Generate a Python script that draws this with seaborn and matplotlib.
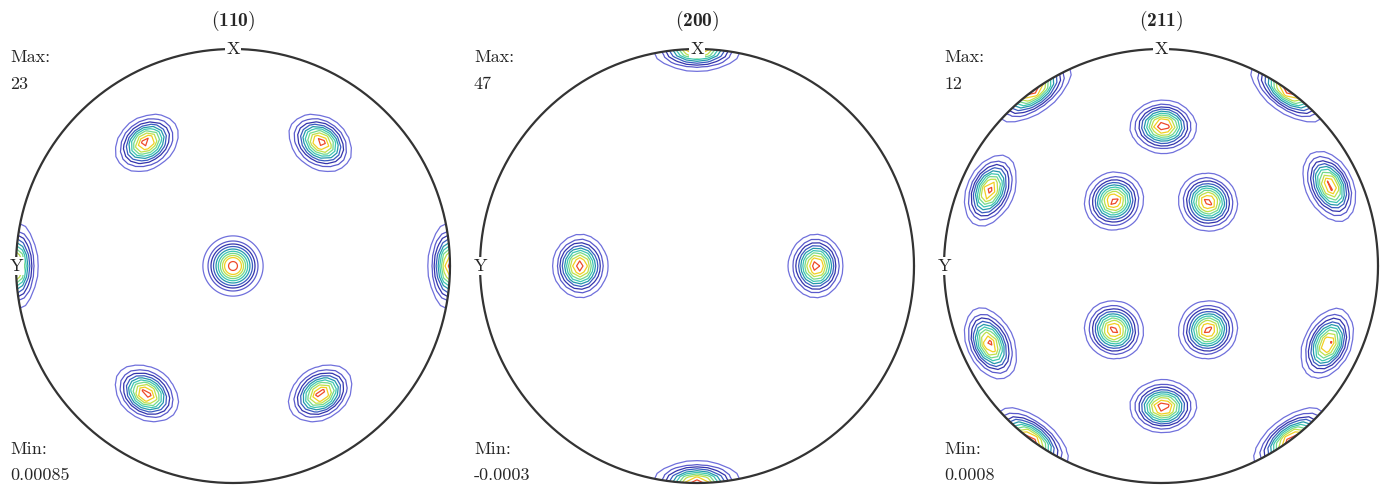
import numpy as np
import matplotlib
matplotlib.use("Agg")
import matplotlib.pyplot as plt
import seaborn as sns

sns.set_theme(style="white")
plt.rcParams["font.family"] = ["cmr10", "DejaVu Serif"]
plt.rcParams["mathtext.fontset"] = "custom"
plt.rcParams["mathtext.rm"] = "cmr10"
plt.rcParams["mathtext.bf"] = "cmb10"
plt.rcParams["mathtext.fallback"] = "cm"
plt.rcParams["axes.unicode_minus"] = False

# ------------------------------------------------------------
# DATA (pole positions in projected disk coords, peak intensities)
# ------------------------------------------------------------
titles = [r"$(\mathbf{110})$", r"$(\mathbf{200})$", r"$(\mathbf{211})$"]
max_labels = ["23", "47", "12"]
min_labels = ["0.00085", "-0.0003", "0.0008"]
vmax_list = [23, 47, 12]

poles_110_x = [0.0, -0.40, 0.405, -0.40, 0.405, -1.0, 1.0]
poles_110_y = [0.0, 0.57, 0.57, -0.59, -0.59, 0.0, 0.0]
peaks_110 = [23, 22.5, 22.5, 22.5, 22.5, 22, 22]

poles_200_x = [0.0, 0.0, -0.54, 0.55]
poles_200_y = [1.0, -1.0, 0.0, 0.0]
peaks_200 = [47, 47, 46, 46]

poles_211_x = [0.01, 0.01, -0.217, 0.217, -0.217, 0.217, -0.79, 0.78, -0.79, 0.77, -0.59, 0.59, -0.60, 0.60]
poles_211_y = [0.645, -0.65, 0.30, 0.295, -0.295, -0.295, 0.35, 0.37, -0.36, -0.36, 0.81, 0.81, -0.80, -0.80]
peaks_211 = [12, 12, 11.5, 11.5, 11.5, 11.5, 11.5, 11.5, 11.5, 11.5, 12, 12, 12, 12]

panels = [
    (poles_110_x, poles_110_y, peaks_110),
    (poles_200_x, poles_200_y, peaks_200),
    (poles_211_x, poles_211_y, peaks_211),
]

# white-jet style ring colours, outer -> inner
ring_colors = ['#7070dc', '#5a5acc', '#3434ac', '#3a5cc0', '#2598ac',
               '#3dc6b2', '#74d98c', '#bfe04a', '#f2cf22', '#ee4a2a']

SIGMA = np.radians(5.0)


def to_vec(x, y):
    x, y = np.asarray(x, float), np.asarray(y, float)
    r = np.clip(np.hypot(x, y), 0, 1)
    th = 2 * np.arcsin(r / np.sqrt(2))
    ph = np.arctan2(y, x)
    return np.stack([np.sin(th) * np.cos(ph), np.sin(th) * np.sin(ph), np.cos(th)], axis=-1)


# equal-area polar grid (3 deg)
th = np.radians(np.arange(0, 90.01, 3))
ph = np.radians(np.arange(0, 360.01, 3))
TH, PH = np.meshgrid(th, ph)
RR = np.sqrt(2) * np.sin(TH / 2)
GX, GY = RR * np.cos(PH), RR * np.sin(PH)
GV = np.stack([np.sin(TH) * np.cos(PH), np.sin(TH) * np.sin(PH), np.cos(TH)], axis=-1)

W, H = 1391, 490
fig = plt.figure(figsize=(W / 100, H / 100), dpi=100)
centers = [233, 697, 1161]
text_x = [10, 474, 944]
CY, R = 266, 217

for i, (px, py, pk) in enumerate(panels):
    cx = centers[i]
    ax = fig.add_axes([(cx - R) / W, (H - CY - R) / H, 2 * R / W, 2 * R / H])
    ax.set_xlim(-1, 1); ax.set_ylim(-1, 1); ax.axis("off")

    Z = np.zeros_like(GX)
    for v, p in zip(to_vec(px, py), pk):
        ang = np.arccos(np.clip(GV @ v, -1, 1))
        Z += p * np.exp(-ang ** 2 / (2 * SIGMA ** 2))

    vmax = vmax_list[i]
    levels = np.linspace(0, vmax, 12)[1:-1]
    ax.contour(GX, GY, Z, levels=levels, colors=ring_colors, linewidths=0.9)

    t = np.linspace(0, 2 * np.pi, 721)
    ax.plot(np.cos(t), np.sin(t), color="#333333", lw=1.6, clip_on=False)
    box = dict(facecolor="white", edgecolor="none", pad=0.6)
    ax.text(0, 1, "X", ha="center", va="center", fontsize=13, bbox=box, clip_on=False)
    ax.text(-1, 0, "Y", ha="center", va="center", fontsize=13, bbox=box, clip_on=False)

    fig.text(cx / W, 1 - 26 / H, titles[i], ha="center", va="baseline", fontsize=14)
    tx = text_x[i] / W
    fig.text(tx, 1 - 62 / H, "Max:", ha="left", va="baseline", fontsize=13)
    fig.text(tx, 1 - 89 / H, max_labels[i], ha="left", va="baseline", fontsize=13)
    fig.text(tx, 1 - 454 / H, "Min:", ha="left", va="baseline", fontsize=13)
    fig.text(tx, 1 - 480 / H, min_labels[i], ha="left", va="baseline", fontsize=13)

fig.savefig("out.png", dpi=100, facecolor="white")
